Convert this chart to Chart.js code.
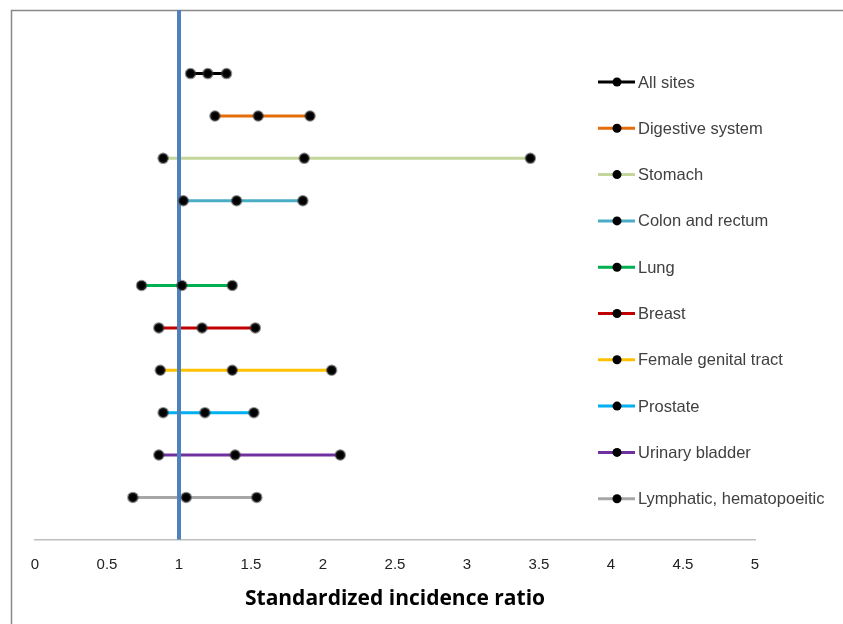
<!DOCTYPE html>
<html>
<head>
<meta charset="utf-8">
<script src="https://cdn.jsdelivr.net/npm/chart.js@4.4.0/dist/chart.umd.min.js"></script>
<style>
  html, body { margin: 0; padding: 0; background: #fff; }
  #wrap { width: 843px; height: 624px; }
</style>
</head>
<body>
<div id="wrap"><canvas id="chart" width="843" height="624"></canvas></div>
<script>
// cancer sites, top to bottom
const sites = ['All sites', 'Digestive system', 'Stomach', 'Colon and rectum', 'Lung',
  'Breast', 'Female genital tract', 'Prostate', 'Urinary bladder', 'Lymphatic, hematopoeitic'];
// row index on the (hidden) y scale, row 7 left empty
const rows = [11, 10, 9, 8, 6, 5, 4, 3, 2, 1];
const lower = [1.08, 1.25, 0.89, 1.03, 0.74, 0.86, 0.87, 0.89, 0.86, 0.68];
const sir = [1.20, 1.55, 1.87, 1.40, 1.02, 1.16, 1.37, 1.18, 1.39, 1.05];
const upper = [1.33, 1.91, 3.44, 1.86, 1.37, 1.53, 2.06, 1.52, 2.12, 1.54];
const colors = ['#000000', '#E46C0A', '#C3D69B', '#4BACC6', '#00B050',
  '#C00000', '#FFC000', '#00B0F0', '#7030A0', '#A6A6A6'];
const xTicks = [0, 0.5, 1, 1.5, 2, 2.5, 3, 3.5, 4, 4.5, 5];
const refValue = 1;

const datasets = sites.map((s, i) => ({
  label: s,
  data: [
    { x: lower[i], y: rows[i] },
    { x: sir[i], y: rows[i] },
    { x: upper[i], y: rows[i] }
  ],
  borderColor: colors[i],
  borderWidth: 3,
  pointRadius: 4.5,
  pointBackgroundColor: '#000',
  pointBorderColor: 'rgba(60,60,60,0.35)',
  pointBorderWidth: 2.5,
  showLine: true,
  order: 2
}));

datasets.push({
  label: 'ref',
  data: [{ x: refValue, y: 0 }, { x: refValue, y: 12.5 }],
  borderColor: '#4F81BD',
  borderWidth: 4,
  pointRadius: 0,
  showLine: true,
  order: 1
});

// draws the frame, legend, and puts markers above the reference line
const extras = {
  id: 'extras',
  beforeDraw(chart) {
    const ctx = chart.ctx;
    ctx.save();
    ctx.strokeStyle = '#898989';
    ctx.lineWidth = 1.5;
    ctx.strokeRect(11.5, 10.5, 900, 700);
    ctx.restore();
  },
  afterDatasetsDraw(chart) {
    const ctx = chart.ctx;
    sites.forEach((s, i) => {
      chart.getDatasetMeta(i).data.forEach(p => p.draw(ctx, chart.chartArea));
    });
    ctx.save();
    const x0 = 598, y0 = 82, step = 46.3;
    ctx.font = '16.5px "Liberation Sans", "Open Sans", sans-serif';
    ctx.textBaseline = 'middle';
    sites.forEach((s, i) => {
      const y = y0 + i * step;
      ctx.strokeStyle = colors[i];
      ctx.lineWidth = 3;
      ctx.beginPath();
      ctx.moveTo(x0, y);
      ctx.lineTo(x0 + 37, y);
      ctx.stroke();
      ctx.fillStyle = '#000';
      ctx.beginPath();
      ctx.arc(x0 + 19, y, 4.5, 0, Math.PI * 2);
      ctx.fill();
      ctx.fillStyle = '#404040';
      ctx.fillText(s, x0 + 40, y + 1);
    });
    ctx.restore();
  }
};

new Chart(document.getElementById('chart'), {
  type: 'scatter',
  data: { datasets },
  options: {
    responsive: false,
    animation: false,
    layout: { padding: { left: 35, right: 88, top: 10, bottom: 12 } },
    plugins: {
      legend: { display: false },
      tooltip: { enabled: false }
    },
    scales: {
      x: {
        type: 'linear',
        min: 0,
        max: 5,
        afterBuildTicks: axis => { axis.ticks = xTicks.map(v => ({ value: v })); },
        grid: { display: false },
        border: { display: true, color: '#BFBFBF', width: 1.5 },
        ticks: {
          padding: 8,
          color: '#222',
          font: { family: '"Liberation Sans Narrow", "Liberation Sans", sans-serif', size: 15 },
          callback: v => String(v),
          maxRotation: 0
        },
        title: {
          display: true,
          text: 'Standardized incidence ratio',
          color: '#000',
          font: { family: '"Open Sans", sans-serif', size: 21, weight: 'bold' },
          padding: { top: 5, bottom: 0 }
        }
      },
      y: {
        type: 'linear',
        min: 0,
        max: 12.5,
        display: false
      }
    }
  },
  plugins: [extras]
});
</script>
</body>
</html>
